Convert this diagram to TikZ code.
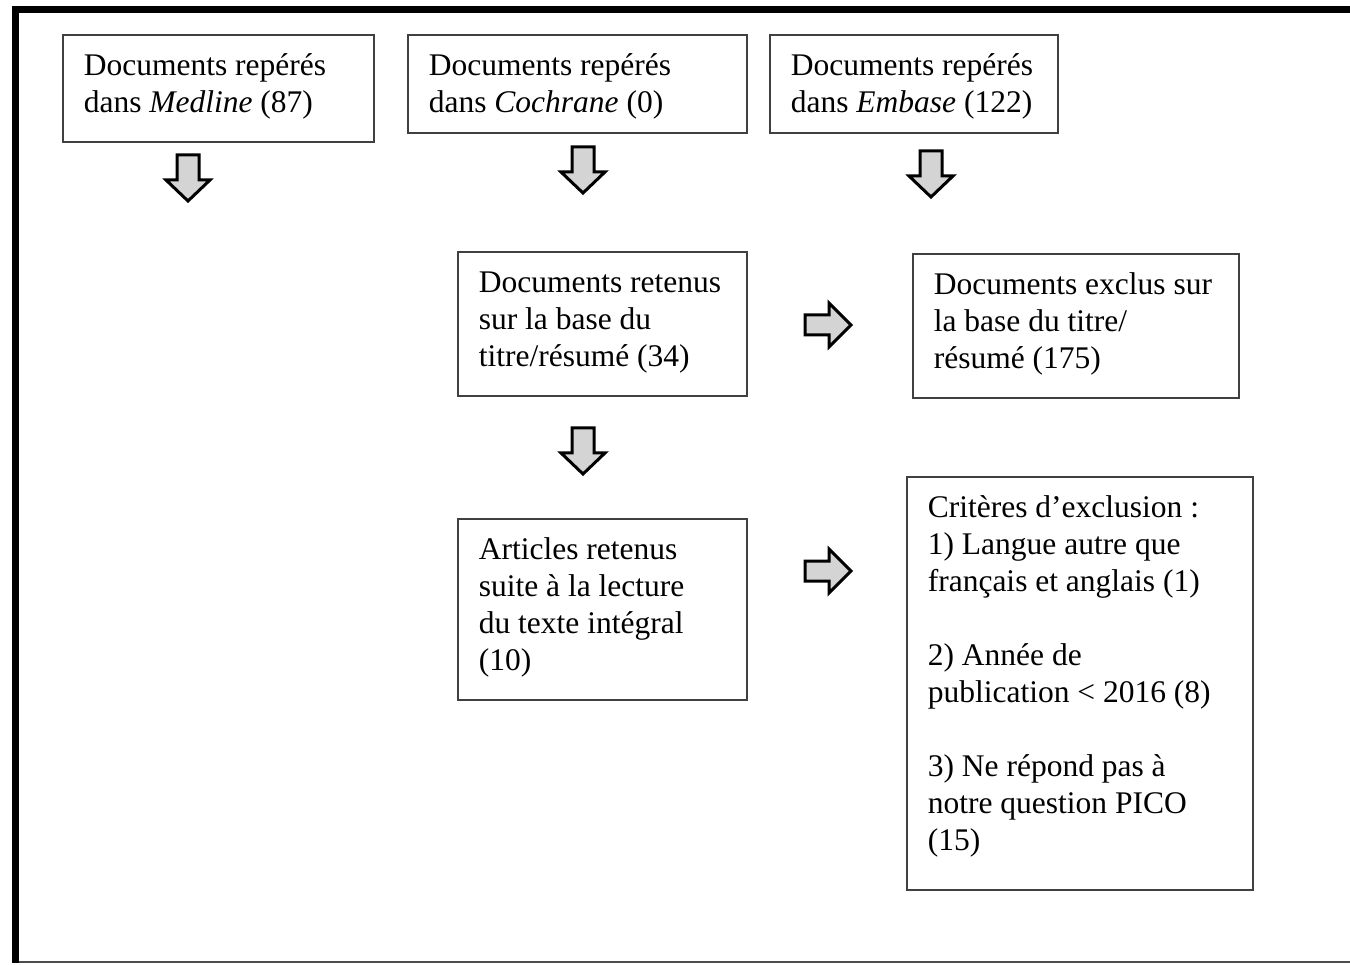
\documentclass[tikz,border=0pt]{standalone}
\usepackage{fontspec}
\setmainfont{Liberation Serif}

\newcommand{\boxtext}[3]{\parbox[t][#2][t]{#1}{\raggedright\strut #3}}

\tikzset{
  docbox/.style={draw=black!75, line width=1.6pt, anchor=north west,
    inner xsep=21pt, inner ysep=15pt, font=\fontsize{31.5}{37}\selectfont},
  blockarrow/.style={draw=black, fill=black!17, line width=3pt, line join=miter},
  downarrow/.pic={
    \filldraw[blockarrow] (-11,0) -- (11,0) -- (11,25) -- (22,25) -- (0,46)
      -- (-22,25) -- (-11,25) -- cycle;
  },
  rightarrow/.pic={
    \filldraw[blockarrow] (0,-10) -- (24,-10) -- (24,-22) -- (46,0) -- (24,22)
      -- (24,10) -- (0,10) -- cycle;
  }
}

\begin{document}
\begin{tikzpicture}[x=1pt,y=-1pt]
  \useasboundingbox (0,0) rectangle (1350,965);

  % frame
  \fill (12,6) rectangle (1350,13);
  \fill (12,6) rectangle (19,963);
  \draw[black!70, line width=2pt] (19,962) -- (1350,962);

  % databases
  \node[docbox] (medline) at (62,34)
    {\boxtext{269pt}{77pt}{Documents repérés\\dans \textit{Medline} (87)}};
  \node[docbox] (cochrane) at (407,34)
    {\boxtext{297pt}{68pt}{Documents repérés\\dans \textit{Cochrane} (0)}};
  \node[docbox] (embase) at (769,34)
    {\boxtext{246pt}{68pt}{Documents repérés\\dans \textit{Embase} (122)}};

  % screening
  \node[docbox] (retenus) at (457,251)
    {\boxtext{247pt}{114pt}{Documents retenus\\sur la base du\\titre/résumé (34)}};
  \node[docbox] (exclus) at (912,253)
    {\boxtext{284pt}{114pt}{Documents exclus sur\\la base du titre/\\résumé (175)}};

  % full text
  \node[docbox] (articles) at (457,518)
    {\boxtext{247pt}{151pt}{Articles retenus\\suite à la lecture\\du texte intégral\\(10)}};
  \node[docbox] (criteres) at (906,476)
    {\boxtext{304pt}{383pt}{Critères d’exclusion :\\1) Langue autre que\\français et anglais (1)\\[37pt]
      2) Année de\\publication < 2016 (8)\\[37pt]
      3) Ne répond pas à\\notre question PICO\\(15)}};

  % block arrows
  \pic (arrmedline) at (188,155) {downarrow};
  \pic (arrcochrane) at (583,147) {downarrow};
  \pic (arrembase) at (931,151) {downarrow};
  \pic (arrretenus) at (583,428) {downarrow};
  \pic (arrexclus) at (805,325) {rightarrow};
  \pic (arrcriteres) at (805,571) {rightarrow};
\end{tikzpicture}
\end{document}
